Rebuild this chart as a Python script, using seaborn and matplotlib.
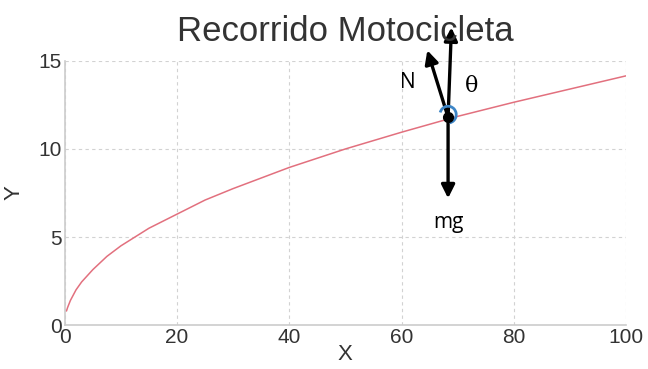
import matplotlib
matplotlib.use("Agg")
import matplotlib.pyplot as plt
from matplotlib.patches import Arc
import seaborn as sns
import pandas as pd

# ---- data ----
x_vals = [0.3, 0.5, 1, 2, 3, 5, 7.5, 10, 15, 20, 25, 30, 40, 50, 60, 70, 80, 90, 100]
y_vals = [0.8, 1.0, 1.4, 2.0, 2.45, 3.15, 3.9, 4.5, 5.5, 6.3, 7.1, 7.75, 8.95, 10.0,
          10.95, 11.85, 12.65, 13.4, 14.15]
x_ticks = [0, 20, 40, 60, 80, 100]
y_ticks = [0, 5, 10, 15]
title = "Recorrido Motocicleta"
x_label = "X"
y_label = "Y"

# force diagram annotation (data coordinates)
point = (68.3, 11.8)
up_tip = (68.9, 16.9)
down_tip = (68.3, 7.2)
n_tip = (64.6, 15.6)

df = pd.DataFrame({"x": x_vals, "y": y_vals})

sns.set_style("white")
plt.rcParams["font.family"] = ["Liberation Sans", "DejaVu Sans"]

fig = plt.figure(figsize=(6.48, 3.69), dpi=100)
ax = fig.add_axes([0.100, 0.119, 0.866, 0.716])

sns.lineplot(data=df, x="x", y="y", ax=ax, color="#e2707e", lw=1.1)

ax.set_xlim(0, 100)
ax.set_ylim(0, 15)
ax.set_xticks(x_ticks)
ax.set_yticks(y_ticks)
ax.tick_params(length=0, labelsize=15, colors="#333333", pad=2)
ax.grid(True, linestyle=(0, (3, 3)), color="#d2d2d2", lw=0.8)
for s in ["top", "right"]:
    ax.spines[s].set_visible(False)
for s in ["left", "bottom"]:
    ax.spines[s].set_color("#cccccc")
    ax.spines[s].set_linewidth(1.2)

ax.set_title(title, fontsize=25, color="#333333", pad=14)
ax.set_xlabel(x_label, fontsize=16, color="#333333", labelpad=-2)
ax.set_ylabel(y_label, fontsize=16, color="#333333", labelpad=10)

# annotations: force vectors
ap = dict(arrowstyle="-|>", lw=2.4, color="black", mutation_scale=20,
          shrinkA=0, shrinkB=0)
ax.annotate("", xy=up_tip, xytext=point, arrowprops=ap, annotation_clip=False)
ax.annotate("", xy=down_tip, xytext=point, arrowprops=ap, annotation_clip=False)
ax.annotate("", xy=n_tip, xytext=point, arrowprops=ap, annotation_clip=False)
ax.add_patch(Arc((point[0], point[1] + 0.15), width=2.9, height=0.95, theta1=-60,
                 theta2=175, color="#3d85c6", lw=2.0, zorder=5))
ax.plot([point[0]], [point[1]], "o", color="black", ms=7, zorder=6)

ax.text(61.2, 13.8, "N", fontsize=15, family=["Open Sans", "DejaVu Sans"],
        color="black", ha="center", va="center")
ax.text(72.4, 13.6, "θ", fontsize=16, family=["DejaVu Serif"],
        color="black", ha="center", va="center")
ax.text(68.3, 5.85, "mg", fontsize=15, family=["Open Sans", "DejaVu Sans"],
        color="black", ha="center", va="center")

fig.savefig("out.png", dpi=100)
